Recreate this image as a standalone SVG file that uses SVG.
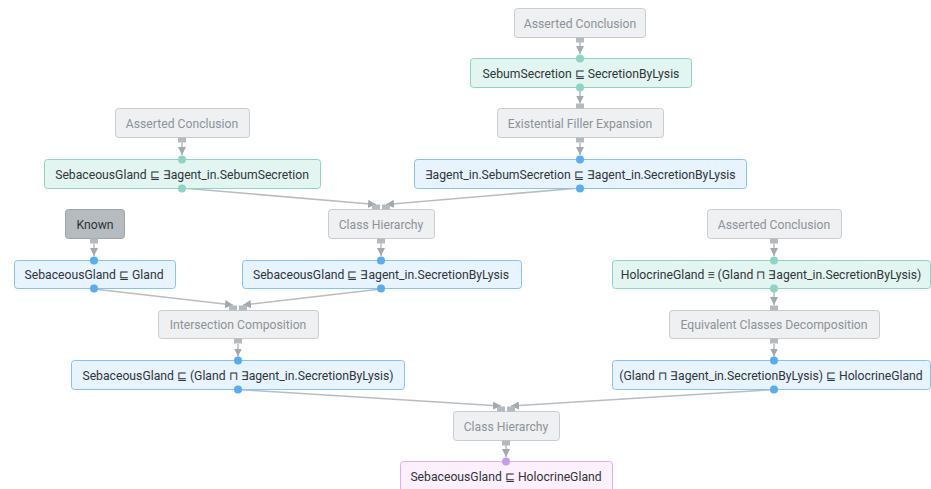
<svg xmlns="http://www.w3.org/2000/svg" width="931" height="489" viewBox="0 0 931 489">
<defs>
<style>
.rule rect{fill:#eef0f2;stroke:#c9cdd1;stroke-width:1}
.rule text{fill:#8d9399}
.known rect{fill:#b5bbbf;stroke:#9ea4a8;stroke-width:1}
.known text{fill:#2f3438}
.teal rect{fill:#e2f5f1;stroke:#8fd3c4;stroke-width:1}
.blue rect{fill:#e7f3fd;stroke:#86c3f0;stroke-width:1}
.purple rect{fill:#fcf0fd;stroke:#dcb0f2;stroke-width:1}
text{font-family:Roboto,"Liberation Sans",sans-serif;font-size:12.2px;text-anchor:middle;fill:#30353a}
.edge line{stroke:#b9bdc1;stroke-width:1.5;fill:none}
.sq{fill:#b3bac0}
.dt{fill:#8fd3c4}
.db{fill:#5aacf0}
.dp{fill:#c79bec}
</style>
<marker id="ah" viewBox="0 0 8 8" refX="8" refY="4" markerWidth="8" markerHeight="8" markerUnits="userSpaceOnUse" orient="auto">
<path d="M0,0 L8,4 L0,8 z" fill="#a4a9ad"/>
</marker>
</defs>
<g id="connectors" class="edge">
<line x1="580" y1="42" x2="580" y2="54" marker-end="url(#ah)"/>
<line x1="580" y1="91" x2="580" y2="103.5" marker-end="url(#ah)"/>
<line x1="580" y1="142.5" x2="580" y2="155" marker-end="url(#ah)"/>
<line x1="182" y1="142.5" x2="182" y2="155" marker-end="url(#ah)"/>
<line x1="182" y1="188" x2="376" y2="204.5" marker-end="url(#ah)"/>
<line x1="580" y1="188" x2="386" y2="204.5" marker-end="url(#ah)"/>
<line x1="94" y1="243.5" x2="94" y2="256" marker-end="url(#ah)"/>
<line x1="381" y1="243.5" x2="381" y2="256" marker-end="url(#ah)"/>
<line x1="94" y1="289" x2="233" y2="305" marker-end="url(#ah)"/>
<line x1="381" y1="289" x2="243" y2="305" marker-end="url(#ah)"/>
<line x1="238" y1="344" x2="238" y2="356.5" marker-end="url(#ah)"/>
<line x1="774" y1="243.5" x2="774" y2="256" marker-end="url(#ah)"/>
<line x1="774" y1="289" x2="774" y2="305" marker-end="url(#ah)"/>
<line x1="774" y1="344" x2="774" y2="356.5" marker-end="url(#ah)"/>
<line x1="238" y1="389.5" x2="501" y2="406" marker-end="url(#ah)"/>
<line x1="774" y1="389.5" x2="511" y2="406" marker-end="url(#ah)"/>
<line x1="506" y1="445" x2="506" y2="457" marker-end="url(#ah)"/>
</g>
<g id="n1" class="rule"><rect x="514.5" y="8.5" width="131" height="29" rx="3"/><text x="580" y="27.5">Asserted Conclusion</text></g>
<g id="n2" class="teal"><rect x="470.5" y="58.5" width="221" height="29" rx="3"/><text x="581" y="77.5">SebumSecretion ⊑ SecretionByLysis</text></g>
<g id="n3" class="rule"><rect x="497.5" y="108.5" width="166" height="29" rx="3"/><text x="580" y="127.5">Existential Filler Expansion</text></g>
<g id="n4" class="blue"><rect x="414.5" y="159.5" width="332" height="29" rx="3"/><text x="580" y="178.5">∃agent_in.SebumSecretion ⊑ ∃agent_in.SecretionByLysis</text></g>
<g id="n5" class="rule"><rect x="115.5" y="108.5" width="134" height="29" rx="3"/><text x="182" y="127.5">Asserted Conclusion</text></g>
<g id="n6" class="teal"><rect x="44.5" y="159.5" width="276" height="29" rx="3"/><text x="182" y="178.5">SebaceousGland ⊑ ∃agent_in.SebumSecretion</text></g>
<g id="n7" class="known"><rect x="65.5" y="209.5" width="59" height="29" rx="3"/><text x="95" y="228.5">Known</text></g>
<g id="n8" class="rule"><rect x="328.5" y="209.5" width="106" height="29" rx="3"/><text x="381" y="228.5">Class Hierarchy</text></g>
<g id="n9" class="blue"><rect x="14.5" y="260.5" width="161" height="28" rx="3"/><text x="94" y="279">SebaceousGland ⊑ Gland</text></g>
<g id="n10" class="blue"><rect x="242.5" y="260.5" width="279" height="28" rx="3"/><text x="381" y="279">SebaceousGland ⊑ ∃agent_in.SecretionByLysis</text></g>
<g id="n11" class="rule"><rect x="158.5" y="310.5" width="160" height="28" rx="3"/><text x="238" y="329">Intersection Composition</text></g>
<g id="n12" class="blue"><rect x="71.5" y="360.5" width="333" height="29" rx="3"/><text x="238" y="379.5">SebaceousGland ⊑ (Gland ⊓ ∃agent_in.SecretionByLysis)</text></g>
<g id="n13" class="rule"><rect x="707.5" y="209.5" width="134" height="29" rx="3"/><text x="774" y="228.5">Asserted Conclusion</text></g>
<g id="n14" class="teal"><rect x="612.5" y="260.5" width="318" height="28" rx="3"/><text x="771" y="279">HolocrineGland ≡ (Gland ⊓ ∃agent_in.SecretionByLysis)</text></g>
<g id="n15" class="rule"><rect x="669.5" y="310.5" width="210" height="28" rx="3"/><text x="774" y="329">Equivalent Classes Decomposition</text></g>
<g id="n16" class="blue"><rect x="612.5" y="360.5" width="318" height="29" rx="3"/><text x="771" y="379.5">(Gland ⊓ ∃agent_in.SecretionByLysis) ⊑ HolocrineGland</text></g>
<g id="n17" class="rule"><rect x="453.5" y="411.5" width="106" height="29" rx="3"/><text x="506" y="430.5">Class Hierarchy</text></g>
<g id="n18" class="purple"><rect x="400.5" y="461.5" width="212" height="32" rx="3"/><text x="506" y="481">SebaceousGland ⊑ HolocrineGland</text></g>
<g id="ports">
<rect class="sq" x="576" y="37.5" width="8" height="5"/>
<circle class="dt" cx="580" cy="58.5" r="4"/>
<circle class="dt" cx="580" cy="87.5" r="4"/>
<rect class="sq" x="576" y="103.5" width="8" height="5"/>
<rect class="sq" x="576" y="137.5" width="8" height="5"/>
<circle class="db" cx="580" cy="159.5" r="4"/>
<circle class="db" cx="580" cy="188.5" r="4"/>
<rect class="sq" x="178" y="137.5" width="8" height="5"/>
<circle class="dt" cx="182" cy="159.5" r="4"/>
<circle class="dt" cx="182" cy="188.5" r="4"/>
<rect class="sq" x="372" y="204.5" width="8" height="5"/>
<rect class="sq" x="382" y="204.5" width="8" height="5"/>
<rect class="sq" x="90" y="238.5" width="8" height="5"/>
<circle class="db" cx="94" cy="260.5" r="4"/>
<rect class="sq" x="377" y="238.5" width="8" height="5"/>
<circle class="db" cx="381" cy="260.5" r="4"/>
<circle class="db" cx="94" cy="288.5" r="4"/>
<circle class="db" cx="381" cy="288.5" r="4"/>
<rect class="sq" x="229" y="305.5" width="8" height="5"/>
<rect class="sq" x="239" y="305.5" width="8" height="5"/>
<rect class="sq" x="234" y="338.5" width="8" height="5"/>
<circle class="db" cx="238" cy="360.5" r="4"/>
<circle class="db" cx="238" cy="389.5" r="4"/>
<rect class="sq" x="770" y="238.5" width="8" height="5"/>
<circle class="dt" cx="774" cy="260.5" r="4"/>
<circle class="dt" cx="774" cy="288.5" r="4"/>
<rect class="sq" x="770" y="305.5" width="8" height="5"/>
<rect class="sq" x="770" y="338.5" width="8" height="5"/>
<circle class="db" cx="774" cy="360.5" r="4"/>
<circle class="db" cx="774" cy="389.5" r="4"/>
<rect class="sq" x="497" y="406.5" width="8" height="5"/>
<rect class="sq" x="507" y="406.5" width="8" height="5"/>
<rect class="sq" x="502" y="440.5" width="8" height="5"/>
<circle class="dp" cx="506" cy="461.5" r="4"/>
</g>
</svg>
